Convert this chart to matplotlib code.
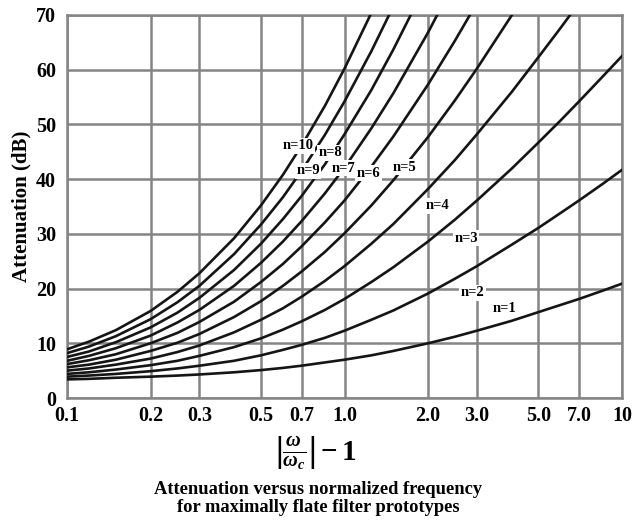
import matplotlib
matplotlib.use('Agg')
import matplotlib.pyplot as plt
from matplotlib.ticker import FixedLocator, NullLocator

# ---- data ----
x_vals = [0.1, 0.12, 0.15, 0.2, 0.25, 0.3, 0.4, 0.5, 0.6, 0.7, 0.85, 1.0,
          1.25, 1.5, 2.0, 2.5, 3.0, 4.0, 5.0, 6.0, 7.0, 8.5, 10]

n1 = [3.4, 3.5, 3.7, 3.9, 4.1, 4.3, 4.7, 5.1, 5.5, 5.9, 6.5, 7.0, 7.8, 8.6,
      10.0, 11.2, 12.3, 14.1, 15.7, 17.0, 18.1, 19.6, 20.9]
n2 = [3.9, 4.1, 4.4, 4.9, 5.4, 5.9, 6.8, 7.8, 8.8, 9.7, 11.0, 12.3, 14.3, 16.0,
      19.1, 21.8, 24.1, 28.0, 31.1, 33.8, 36.1, 39.1, 41.7]
n3 = [4.4, 4.7, 5.2, 6.0, 6.8, 7.7, 9.3, 10.9, 12.5, 14.0, 16.1, 18.1, 21.2, 23.9,
      28.6, 32.6, 36.1, 41.9, 46.7, 50.7, 54.2, 58.7, 62.5]
n4 = [5.0, 5.4, 6.1, 7.2, 8.4, 9.6, 12.0, 14.3, 16.4, 18.5, 21.4, 24.1, 28.2, 31.8,
      38.2, 43.5, 48.2, 55.9, 62.3, 67.6, 72.2, 78.2, 83.3]
n5 = [5.6, 6.1, 7.0, 8.6, 10.1, 11.7, 14.8, 17.7, 20.5, 23.1, 26.7, 30.1, 35.2, 39.8,
      47.7, 54.4, 60.2, 69.9, 77.8, 84.5, 90.3, 97.8, 104.1]
n6 = [6.2, 6.9, 8.0, 10.0, 11.9, 13.9, 17.6, 21.2, 24.5, 27.7, 32.1, 36.1, 42.3, 47.8,
      57.3, 65.3, 72.2, 83.9, 93.4, 101.4, 108.4, 117.3, 125.0]
n7 = [6.8, 7.7, 9.1, 11.4, 13.8, 16.1, 20.5, 24.7, 28.6, 32.3, 37.4, 42.1, 49.3, 55.7,
      66.8, 76.2, 84.3, 97.9, 108.9, 118.3, 126.4, 136.9, 145.8]
n8 = [7.5, 8.5, 10.2, 12.9, 15.6, 18.3, 23.4, 28.2, 32.7, 36.9, 42.7, 48.2, 56.3, 63.7,
      76.3, 87.1, 96.3, 111.8, 124.5, 135.2, 144.5, 156.4, 166.6]
n9 = [8.2, 9.4, 11.3, 14.4, 17.5, 20.5, 26.3, 31.7, 36.7, 41.5, 48.1, 54.2, 63.4, 71.6,
      85.9, 97.9, 108.4, 125.8, 140.1, 152.1, 162.6, 176.0, 187.5]
n10 = [8.9, 10.3, 12.4, 15.9, 19.4, 22.8, 29.2, 35.2, 40.8, 46.1, 53.4, 60.2, 70.4, 79.6,
       95.4, 108.8, 120.4, 139.8, 155.6, 169.0, 180.6, 195.5, 208.3]

series = [n1, n2, n3, n4, n5, n6, n7, n8, n9, n10]
curve_labels = ["n=1", "n=2", "n=3", "n=4", "n=5", "n=6", "n=7", "n=8", "n=9", "n=10"]
label_x = [3.76, 2.90, 2.74, 2.17, 1.64, 1.22, 0.99, 0.89, 0.74, 0.68]
label_y = [16.3, 19.2, 29.2, 35.1, 42.2, 41.1, 42.0, 44.8, 41.5, 46.1]

xticks = [0.1, 0.2, 0.3, 0.5, 0.7, 1.0, 2.0, 3.0, 5.0, 7.0, 10]
xtick_labels = ["0.1", "0.2", "0.3", "0.5", "0.7", "1.0", "2.0", "3.0", "5.0", "7.0", "10"]
yticks = [0, 10, 20, 30, 40, 50, 60, 70]

# ---- style ----
plt.rcParams['font.family'] = ['Liberation Serif', 'DejaVu Serif']
plt.rcParams['font.weight'] = 'bold'
plt.rcParams['mathtext.fontset'] = 'custom'
plt.rcParams['mathtext.rm'] = 'Liberation Serif:bold'
plt.rcParams['mathtext.it'] = 'Liberation Serif:italic:bold'
plt.rcParams['mathtext.bf'] = 'Liberation Serif:bold'

grid_c = '#858585'
fig = plt.figure(figsize=(6.41, 5.20), dpi=100)
ax = fig.add_axes([67/641, 1-398/520, (622-67)/641, (398-15)/520])

for vals in series:
    ax.plot(x_vals, vals, color='#151515', lw=1.9, zorder=3)

ax.set_xscale('log')
ax.set_xlim(0.1, 10)
ax.set_ylim(0, 70)
ax.xaxis.set_major_locator(FixedLocator(xticks))
ax.xaxis.set_minor_locator(NullLocator())
ax.set_xticks(xticks)
ax.set_xticklabels(xtick_labels)
ax.set_yticks(yticks)
ax.tick_params(axis='both', length=0, labelsize=14.5)
ax.tick_params(axis='x', pad=6)
ax.tick_params(axis='y', pad=8)
for lab in ax.get_xticklabels() + ax.get_yticklabels():
    lab.set_fontweight('bold')

ax.grid(True, which='major', color=grid_c, lw=1.8, zorder=1)
for s in ax.spines.values():
    s.set_color(grid_c)
    s.set_linewidth(1.8)

for t, lx, ly in zip(curve_labels, label_x, label_y):
    ax.text(lx, ly, t, fontsize=10.5, fontweight='bold', ha='center', va='center',
            zorder=5, bbox=dict(facecolor='white', edgecolor='none', pad=1.0))

ax.set_ylabel('Attenuation (dB)', fontsize=15, fontweight='bold', labelpad=3)

fig.text(316/641, 1-453/520, r'$\left|\frac{\omega}{\omega_c}\right|-1$',
         fontsize=21, ha='center', va='center')
fig.text(318/641, 1-489/520, 'Attenuation versus normalized frequency',
         fontsize=13.3, fontweight='bold', ha='center', va='center')
fig.text(318/641, 1-508/520, 'for maximally flate filter prototypes',
         fontsize=13.3, fontweight='bold', ha='center', va='center')

fig.savefig('out.png', dpi=100)
